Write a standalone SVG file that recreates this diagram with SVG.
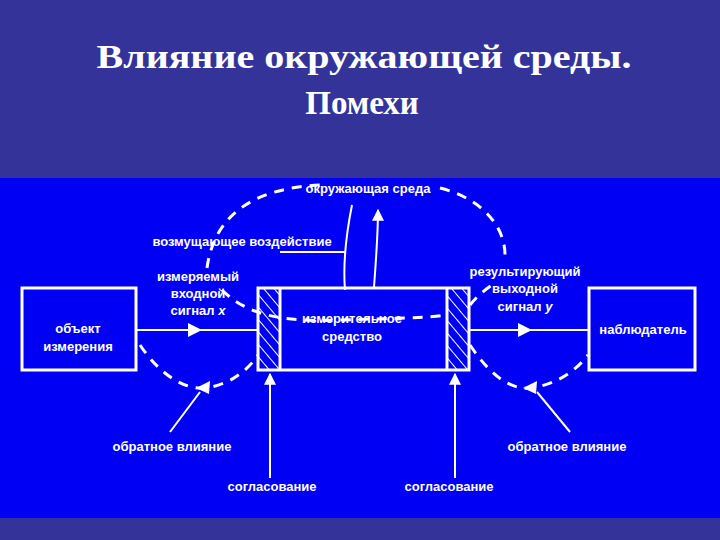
<svg xmlns="http://www.w3.org/2000/svg" width="720" height="540" viewBox="0 0 720 540">
<defs>
<style>
.t{font-family:"Liberation Sans",Arial,sans-serif;font-size:13px;fill:#fff;font-weight:bold;text-anchor:middle}
.ln{stroke:#fff;stroke-width:2;fill:none}
.d{stroke:#fff;stroke-width:3;fill:none;stroke-dasharray:10 8}
.bx{stroke:#fff;stroke-width:3;fill:none}
.ti{font-family:"Liberation Serif",serif;font-size:33px;font-weight:bold;fill:#fff;text-anchor:middle}
</style>
<marker id="a" viewBox="0 0 10 10" refX="9" refY="5" markerWidth="6" markerHeight="6" orient="auto"><path d="M0,0 L10,5 L0,10 z" fill="#fff"/></marker>
<pattern id="h" width="8" height="8" patternUnits="userSpaceOnUse" patternTransform="rotate(-40)"><line x1="0" y1="0" x2="0" y2="8" stroke="#fff" stroke-width="2"/></pattern>
</defs>
<rect width="720" height="540" fill="#333399"/>
<rect y="178" width="720" height="340" fill="#0000f5"/>
<text class="ti" x="364" y="68" textLength="535" lengthAdjust="spacingAndGlyphs">Влияние окружающей среды.</text>
<text class="ti" x="362" y="114">Помехи</text>
<g id="connectors">
<path class="d" d="M207,268 C215,210 260,188 320,185"/>
<path class="d" d="M440,188 C480,198 505,225 505,255"/>
<path class="d" d="M222,290 C250,318 290,322 340,320 C400,318 430,318 445,315"/>
<path class="d" d="M470,305 C478,295 485,290 492,285"/>
<path class="ln" d="M352,205 C345,240 343,265 345,290"/>
<path class="ln" d="M374,287 C376,260 378,235 378,210" marker-end="url(#a)"/>
<line class="ln" x1="280" y1="252" x2="345" y2="252"/>
<line class="ln" x1="136" y1="330" x2="258" y2="330" stroke-width="3"/>
<path d="M188,323 L202,330 L188,337 z" fill="#fff"/>
<line class="ln" x1="468" y1="330" x2="589" y2="330" stroke-width="3"/>
<path d="M518,323 L532,330 L518,337 z" fill="#fff"/>
<path class="d" d="M140,345 C160,375 185,390 205,388 C230,385 248,370 258,355"/>
<path d="M196,388 L210,381 L209,394 z" fill="#fff"/>
<path class="d" d="M470,345 C490,375 510,390 530,388 C555,385 575,372 588,355"/>
<path d="M523,388 L537,381 L536,394 z" fill="#fff"/>
<line class="ln" x1="170" y1="432" x2="200" y2="392"/>
<line class="ln" x1="570" y1="432" x2="537" y2="392"/>
<line class="ln" x1="270" y1="478" x2="270" y2="374" marker-end="url(#a)"/>
<line class="ln" x1="455" y1="478" x2="455" y2="374" marker-end="url(#a)"/>
</g>
<g id="object"><rect class="bx" x="22" y="288" width="114" height="82"/><text class="t" x="78" y="333">объект</text><text class="t" x="78" y="351">измерения</text></g>
<g id="instrument"><rect class="bx" x="258" y="288" width="211" height="82"/>
<rect x="259" y="289" width="21" height="80" fill="url(#h)"/><line class="bx" x1="280" y1="288" x2="280" y2="370"/>
<rect x="448" y="289" width="20" height="80" fill="url(#h)"/><line class="bx" x1="447" y1="288" x2="447" y2="370"/>
<text class="t" x="352" y="323" font-weight="normal">измерительное</text><text class="t" x="352" y="341" font-weight="normal">средство</text></g>
<g id="observer"><rect class="bx" x="589" y="288" width="106" height="82"/><text class="t" x="643" y="334">наблюдатель</text></g>
<g id="labels">
<text class="t" x="368" y="193">окружающая среда</text>
<text class="t" x="242" y="246">возмущающее воздействие</text>
<text class="t" x="198" y="281">измеряемый</text><text class="t" x="198" y="298">входной</text><text class="t" x="198" y="315">сигнал <tspan font-style="italic">x</tspan></text>
<text class="t" x="525" y="276">результирующий</text><text class="t" x="525" y="293">выходной</text><text class="t" x="525" y="311">сигнал <tspan font-style="italic">y</tspan></text>
<text class="t" x="172" y="451">обратное влияние</text>
<text class="t" x="567" y="451">обратное влияние</text>
<text class="t" x="272" y="491">согласование</text>
<text class="t" x="449" y="491">согласование</text>
</g>
</svg>
